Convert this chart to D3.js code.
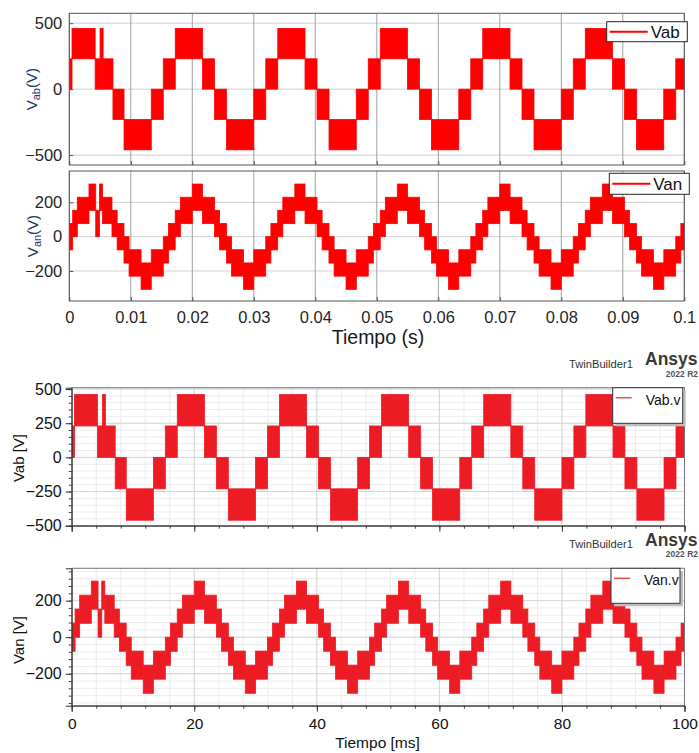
<!DOCTYPE html>
<html>
<head>
<meta charset="utf-8">
<script src="https://cdn.jsdelivr.net/npm/d3@7"></script>
<style>
body { margin: 0; background: #fff; }
svg { display: block; font-family: "Liberation Sans", Arial, sans-serif; }
</style>
</head>
<body>
<svg id="chart" width="699" height="753"></svg>
<script>

// Vab (line voltage): band edges in ms, then lower and upper limit of each band (V)
var vabEdges = [0, 0.44, 4.2, 5.0, 5.5, 7.1, 8.9, 13.33, 15.28, 17.23, 21.66, 23.61, 25.56, 30.0,
	31.95, 33.9, 38.33, 40.28, 42.23, 46.66, 48.61, 50.56, 54.99, 56.94, 58.89, 63.33,
	65.28, 67.23, 71.66, 73.61, 75.56, 80.0, 81.95, 83.9, 88.33, 90.28, 92.23, 96.66, 98.61, 100];
var vabLo = [0, 230, 0, 0, 0, -230, -460, -230,
	0, 230, 0, -230, -460, -230,
	0, 230, 0, -230, -460, -230,
	0, 230, 0, -230, -460, -230,
	0, 230, 0, -230, -460, -230,
	0, 230, 0, -230, -460, -230,
	0];
var vabHi = [230, 460, 230, 460, 230, 0, -230, 0,
	230, 460, 230, 0, -230, 0,
	230, 460, 230, 0, -230, 0,
	230, 460, 230, 0, -230, 0,
	230, 460, 230, 0, -230, 0,
	230, 460, 230, 0, -230, 0,
	230];

// Van (phase voltage): band edges in ms and centre level of each band (V)
var vanEdges = [0, 0.55, 1.3, 3.2, 4.3, 4.9, 5.4, 6.94, 7.78, 8.89, 9.72, 11.67, 13.33, 15.28,
	16.11, 17.22, 18.06, 20.0, 21.67, 23.61, 24.44, 25.56, 26.39, 28.33, 30.0, 31.94,
	32.78, 33.89, 34.72, 36.67, 38.33, 40.28, 41.11, 42.22, 43.06, 45.0, 46.67, 48.61,
	49.44, 50.56, 51.39, 53.33, 55.0, 56.94, 57.78, 58.89, 59.72, 61.67, 63.33, 65.28,
	66.11, 67.22, 68.06, 70.0, 71.67, 73.61, 74.44, 75.56, 76.39, 78.33, 80.0, 81.94,
	82.78, 83.89, 84.72, 86.67, 88.33, 90.28, 91.11, 92.22, 93.06, 95.0, 96.67, 98.61,
	99.44, 100];
var vanMid = [0, 77, 153, 230, 77, 230, 153, 77, 0, -77, -153, -230, -153, -77,
	0, 77, 153, 230, 153, 77, 0, -77, -153, -230, -153, -77,
	0, 77, 153, 230, 153, 77, 0, -77, -153, -230, -153, -77,
	0, 77, 153, 230, 153, 77, 0, -77, -153, -230, -153, -77,
	0, 77, 153, 230, 153, 77, 0, -77, -153, -230, -153, -77,
	0, 77, 153, 230, 153, 77, 0, -77, -153, -230, -153, -77,
	0];
var vanHalf = 77;

// ticks
var matXTicks = [0, 10, 20, 30, 40, 50, 60, 70, 80, 90, 100];
var matXLabels = ['0', '0.01', '0.02', '0.03', '0.04', '0.05', '0.06', '0.07', '0.08', '0.09', '0.1'];
var matVabTicks = [-500, 0, 500];
var matVanTicks = [-200, 0, 200];
var ansXTicks = [0, 20, 40, 60, 80, 100];
var ansVabTicks = [-500, -250, 0, 250, 500];
var ansVanTicks = [-200, 0, 200];

var svg = d3.select('#chart');
svg.append('rect').attr('width', 699).attr('height', 753).attr('fill', '#fff');

var vabBands = vabLo.map(function(l, i) {
	return {t0: vabEdges[i], t1: vabEdges[i + 1], lo: l, hi: vabHi[i]};
});
var vanBands = vanMid.map(function(m, i) {
	return {t0: vanEdges[i], t1: vanEdges[i + 1], lo: m - vanHalf, hi: m + vanHalf};
});

var clipId = 0;
function drawBands(g, x, y, bands, color) {
	clipId++;
	var r = x.range(), yr = y.range();
	svg.append('clipPath').attr('id', 'clip' + clipId)
		.append('rect').attr('x', r[0]).attr('y', yr[1]).attr('width', r[1] - r[0]).attr('height', yr[0] - yr[1]);
	g.append('g').attr('clip-path', 'url(#clip' + clipId + ')')
		.selectAll('rect').data(bands).enter().append('rect')
		.attr('x', function(d) { return x(d.t0); })
		.attr('width', function(d) { return x(d.t1) - x(d.t0); })
		.attr('y', function(d) { return y(d.hi); })
		.attr('height', function(d) { return y(d.lo) - y(d.hi); })
		.attr('fill', color)
		.attr('stroke', color)
		.attr('stroke-width', 0.8);
}

// ---------- MATLAB style panels ----------
function matlabPanel(cfg) {
	var g = svg.append('g');
	var x = d3.scaleLinear().domain([0, 100]).range([69.3, 684.3]);
	var y = d3.scaleLinear().domain(cfg.yDomain).range([cfg.bottom, cfg.top]);

	g.selectAll(null).data(cfg.yTicks).enter().append('line')
		.attr('x1', x(0)).attr('x2', x(100))
		.attr('y1', function(d) { return y(d); }).attr('y2', function(d) { return y(d); })
		.attr('stroke', '#d0d0d0').attr('stroke-width', 1);
	g.selectAll(null).data(matXTicks).enter().append('line')
		.attr('x1', function(d) { return x(d); }).attr('x2', function(d) { return x(d); })
		.attr('y1', cfg.top).attr('y2', cfg.bottom)
		.attr('stroke', '#a0a0a0').attr('stroke-width', 1);

	drawBands(g, x, y, cfg.bands, '#ff0000');

	g.append('rect').attr('x', x(0)).attr('y', cfg.top)
		.attr('width', x(100) - x(0)).attr('height', cfg.bottom - cfg.top)
		.attr('fill', 'none').attr('stroke', '#555').attr('stroke-width', 1);

	var ya = g.append('g').attr('transform', 'translate(' + x(0) + ',0)')
		.call(d3.axisLeft(y).tickValues(cfg.yTicks).tickSize(-4).tickPadding(7));
	ya.select('.domain').remove();
	ya.selectAll('line').attr('stroke', '#555');
	ya.selectAll('text').attr('font-size', 16.5).attr('fill', '#262626').attr('font-family', null);

	var xa = g.append('g').attr('transform', 'translate(0,' + cfg.bottom + ')')
		.call(d3.axisBottom(x).tickValues(matXTicks).tickSize(-4).tickPadding(10)
			.tickFormat(function(d, i) { return cfg.showX ? matXLabels[i] : ''; }));
	xa.select('.domain').remove();
	xa.selectAll('line').attr('stroke', '#555');
	xa.selectAll('text').attr('font-size', 16.5).attr('fill', '#262626').attr('font-family', null);

	var lab = g.append('text')
		.attr('transform', 'translate(' + cfg.labelX + ',' + ((cfg.top + cfg.bottom) / 2) + ') rotate(-90)')
		.attr('text-anchor', 'middle').attr('font-size', 15).attr('fill', '#1f3a66');
	lab.append('tspan').text('V');
	lab.append('tspan').attr('font-size', 11).attr('dy', 3).text(cfg.sub);
	lab.append('tspan').attr('dy', -3).text('(V)');

	var L = cfg.legend;
	g.append('rect').attr('x', L.x).attr('y', L.y).attr('width', L.w).attr('height', L.h)
		.attr('fill', '#fff').attr('stroke', '#262626').attr('stroke-width', 1);
	g.append('line').attr('x1', L.x + 3).attr('x2', L.x + 41)
		.attr('y1', L.y + L.h / 2).attr('y2', L.y + L.h / 2)
		.attr('stroke', '#ff0000').attr('stroke-width', 2);
	g.append('text').attr('x', L.x + 44).attr('y', L.y + L.h / 2 + 6)
		.attr('font-size', 17).attr('fill', '#111').text(L.name);
}

matlabPanel({
	top: 13.3, bottom: 165, yDomain: [-575, 575], yTicks: matVabTicks,
	bands: vabBands, showX: false, labelX: 36.5, sub: 'ab',
	legend: {x: 606.7, y: 21.7, w: 80.6, h: 20, name: 'Vab'}
});
matlabPanel({
	top: 171, bottom: 301, yDomain: [-375, 383], yTicks: matVanTicks,
	bands: vanBands, showX: true, labelX: 38, sub: 'an',
	legend: {x: 609.3, y: 173.3, w: 80, h: 21, name: 'Van'}
});
svg.append('text').attr('x', 378).attr('y', 344).attr('text-anchor', 'middle')
	.attr('font-size', 19.5).attr('fill', '#1a1a1a').text('Tiempo (s)');

// ---------- Ansys style panels ----------
function ansysHeader(base) {
	svg.append('text').attr('x', 633).attr('y', base).attr('text-anchor', 'end')
		.attr('font-size', 11.2).attr('fill', '#333').text('TwinBuilder1');
	svg.append('text').attr('x', 645).attr('y', base - 2.5)
		.attr('font-size', 17.5).attr('font-weight', 'bold').attr('fill', '#3a3a3a').text('Ansys');
	svg.append('text').attr('x', 698).attr('y', base + 9).attr('text-anchor', 'end')
		.attr('font-size', 8.5).attr('font-weight', 'bold').attr('fill', '#555').text('2022 R2');
}

function ansysPanel(cfg) {
	var g = svg.append('g');
	var x = d3.scaleLinear().domain([0, 100]).range([71.7, 684.5]);
	var y = d3.scaleLinear().domain(cfg.yDomain).range([cfg.bottom, cfg.top]);
	var xMinor = d3.range(0, 101, 4);
	var yMinor = d3.range(cfg.minorFrom, cfg.minorTo + 1, cfg.minorStep);

	g.selectAll(null).data(yMinor).enter().append('line')
		.attr('x1', x(0)).attr('x2', x(100))
		.attr('y1', function(d) { return y(d); }).attr('y2', function(d) { return y(d); })
		.attr('stroke', '#ececec').attr('stroke-width', 1);
	g.selectAll(null).data(xMinor).enter().append('line')
		.attr('x1', function(d) { return x(d); }).attr('x2', function(d) { return x(d); })
		.attr('y1', cfg.top).attr('y2', cfg.bottom)
		.attr('stroke', '#ececec').attr('stroke-width', 1);
	g.selectAll(null).data(cfg.yTicks).enter().append('line')
		.attr('x1', x(0)).attr('x2', x(100))
		.attr('y1', function(d) { return y(d); }).attr('y2', function(d) { return y(d); })
		.attr('stroke', '#d6d6d6').attr('stroke-width', 1);
	g.selectAll(null).data(ansXTicks).enter().append('line')
		.attr('x1', function(d) { return x(d); }).attr('x2', function(d) { return x(d); })
		.attr('y1', cfg.top).attr('y2', cfg.bottom)
		.attr('stroke', '#d6d6d6').attr('stroke-width', 1);

	drawBands(g, x, y, cfg.bands, '#ed1c24');

	g.append('rect').attr('x', x(0)).attr('y', cfg.top)
		.attr('width', x(100) - x(0)).attr('height', cfg.bottom - cfg.top)
		.attr('fill', 'none').attr('stroke', '#777').attr('stroke-width', 1);

	// minor ticks
	var ym = g.append('g').attr('transform', 'translate(' + x(0) + ',0)')
		.call(d3.axisLeft(y).tickValues(yMinor).tickSize(3).tickFormat(''));
	ym.select('.domain').remove();
	ym.selectAll('line').attr('stroke', '#444');
	var xm = g.append('g').attr('transform', 'translate(0,' + cfg.bottom + ')')
		.call(d3.axisBottom(x).tickValues(xMinor).tickSize(3).tickFormat(''));
	xm.select('.domain').remove();
	xm.selectAll('line').attr('stroke', '#444');

	var ya = g.append('g').attr('transform', 'translate(' + x(0) + ',0)')
		.call(d3.axisLeft(y).tickValues(cfg.yTicks).tickSize(6).tickPadding(4));
	ya.select('.domain').attr('stroke', '#333');
	ya.selectAll('line').attr('stroke', '#333');
	ya.selectAll('text').attr('font-size', 16).attr('fill', '#111').attr('font-family', null);

	var xa = g.append('g').attr('transform', 'translate(0,' + cfg.bottom + ')')
		.call(d3.axisBottom(x).tickValues(ansXTicks).tickSize(6).tickPadding(6)
			.tickFormat(function(d) { return cfg.showX ? d : ''; }));
	xa.select('.domain').attr('stroke', '#333');
	xa.selectAll('line').attr('stroke', '#333');
	xa.selectAll('text').attr('font-size', 15.5).attr('fill', '#111').attr('font-family', null);

	g.append('text')
		.attr('transform', 'translate(24,' + cfg.labelY + ') rotate(-90)')
		.attr('text-anchor', 'middle').attr('font-size', 15).attr('fill', '#111').text(cfg.yLabel);

	var L = cfg.legend;
	g.append('rect').attr('x', L.x + 3).attr('y', L.y + 3).attr('width', L.w).attr('height', L.h)
		.attr('fill', '#bdbdbd');
	g.append('rect').attr('x', L.x).attr('y', L.y).attr('width', L.w).attr('height', L.h)
		.attr('fill', '#fff').attr('stroke', '#333').attr('stroke-width', 1);
	g.append('line').attr('x1', L.x + 3).attr('x2', L.x + 19)
		.attr('y1', L.y + 10).attr('y2', L.y + 10)
		.attr('stroke', '#f04a4a').attr('stroke-width', 1.5);
	g.append('text').attr('x', L.x + 33).attr('y', L.y + 17)
		.attr('font-size', 14).attr('fill', '#111').text(L.name);
}

ansysHeader(367.5);
ansysPanel({
	top: 387.7, bottom: 525.7, yDomain: [-500, 510], yTicks: ansVabTicks,
	minorFrom: -500, minorTo: 500, minorStep: 50,
	bands: vabBands, showX: false, yLabel: 'Vab [V]', labelY: 458,
	legend: {x: 612.7, y: 387.7, w: 70, h: 35.6, name: 'Vab.v'}
});
ansysHeader(548);
ansysPanel({
	top: 568.3, bottom: 705.7, yDomain: [-375, 377], yTicks: ansVanTicks,
	minorFrom: -360, minorTo: 360, minorStep: 40,
	bands: vanBands, showX: true, yLabel: 'Van [V]', labelY: 640,
	legend: {x: 611, y: 568.3, w: 69, h: 35, name: 'Van.v'}
});
svg.append('text').attr('x', 377.5).attr('y', 748).attr('text-anchor', 'middle')
	.attr('font-size', 15.5).attr('fill', '#111').text('Tiempo [ms]');

</script>
</body>
</html>
